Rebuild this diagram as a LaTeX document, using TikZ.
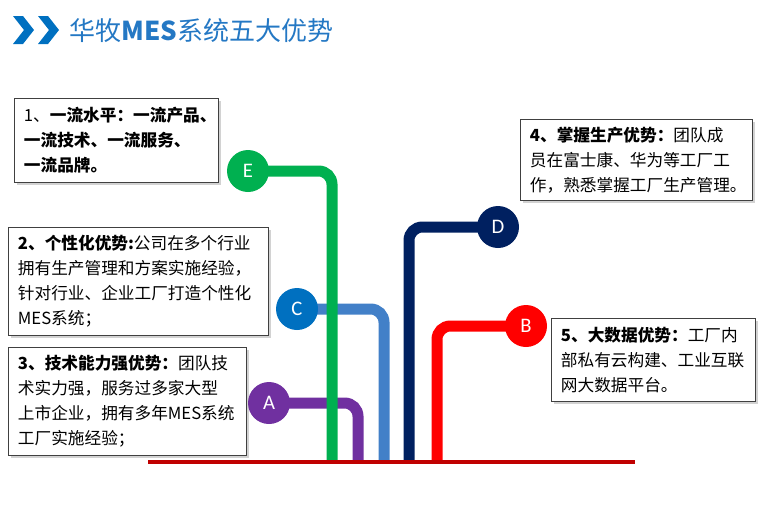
\documentclass[tikz,border=0pt]{standalone}
\usepackage{fontspec}
\setmainfont{Noto Sans CJK SC}
\newfontfamily\letterfont{Carlito}
\usetikzlibrary{shadows,backgrounds}
\definecolor{chevblue}{RGB}{0,112,192}
\definecolor{titleblue}{RGB}{36,120,196}
\definecolor{barE}{RGB}{0,176,80}
\definecolor{barC}{RGB}{0,112,192}
\definecolor{barCline}{RGB}{66,128,200}
\definecolor{barA}{RGB}{112,48,160}
\definecolor{barD}{RGB}{0,32,96}
\definecolor{barB}{RGB}{255,0,0}
\definecolor{baseRed}{RGB}{192,0,0}
\tikzset{
  panel/.style={draw=black!75, line width=0.9pt, fill=white, anchor=north west, align=left,
    inner xsep=7pt, font=\fontsize{12.5pt}{18.75pt}\selectfont,
    drop shadow={shadow xshift=1.8pt, shadow yshift=-1.8pt, fill=black!35}},
  dot/.style={circle, minimum size=31.5pt, inner sep=0pt, text=white,
    font=\letterfont\fontsize{15.5pt}{15.5pt}\selectfont},
  bar/.style={line width=8.25pt, rounded corners=10pt}
}
\begin{document}
\begin{tikzpicture}[x=0.75pt, y=-0.75pt]
\useasboundingbox (0,0) rectangle (762,508);

\foreach \dx in {0,25}
   \fill[chevblue, xshift=\dx*0.75pt] (13,16) -- (23,16) -- (34,30) -- (23,44) -- (13,44) -- (24,30) -- cycle;
\node[anchor=west, inner sep=0pt, text=titleblue, font=\fontsize{19.5pt}{21pt}\selectfont] (title) at (69,31) {华牧\textbf{MES}系统五大优势};

\node[panel, text width=139pt, minimum height=63pt] (p1) at (14,98)
   {1、\textbf{一流水平：一流产品、}\\\textbf{一流技术、一流服务、}\\\textbf{一流品牌。}};
\node[panel, text width=181pt, minimum height=81pt] (p2) at (8,227)
   {\textbf{2、个性化优势:}公司在多个行业\\拥有生产管理和方案实施经验，\\针对行业、企业工厂打造个性化\\MES系统；};
\node[panel, text width=164.5pt, minimum height=81pt] (p3) at (8,347)
   {\textbf{3、技术能力强优势：}团队技\\术实力强，服务过多家大型\\上市企业，拥有多年MES系统\\工厂实施经验；};
\node[panel, text width=160pt, minimum height=60.75pt] (p4) at (520,119)
   {\textbf{4、掌握生产优势：}团队成\\员在富士康、华为等工厂工\\作，熟悉掌握工厂生产管理。};
\node[panel, text width=139pt, minimum height=62.25pt] (p5) at (551,318)
   {\textbf{5、大数据优势：}工厂内\\部私有云构建、工业互联\\网大数据平台。};

\foreach \name/\col/\cx/\cy/\fx in {A/barA/269/403/358, C/barC/297/309/384, E/barE/248/171/332, D/barD/498/227/409, B/barB/526/326/437}{
   \node[dot, fill=\col] (\name) at (\cx,\cy) {\name};
   \coordinate (\name foot) at (\fx,462);
   }

\begin{pgfonlayer}{background}
\draw[bar, barA] (A.center) -| (Afoot);
\draw[bar, barCline] (C.center) -| (Cfoot);
\draw[bar, barE] (E.center) -| (Efoot);
\draw[bar, barD] (D.center) -| (Dfoot);
\draw[bar, barB] (B.center) -| (Bfoot);
\end{pgfonlayer}

\coordinate (baseL) at (148,462);
\coordinate (baseR) at (635,462);
\draw[baseRed, line width=3pt] (baseL) -- (baseR);
\end{tikzpicture}
\end{document}
